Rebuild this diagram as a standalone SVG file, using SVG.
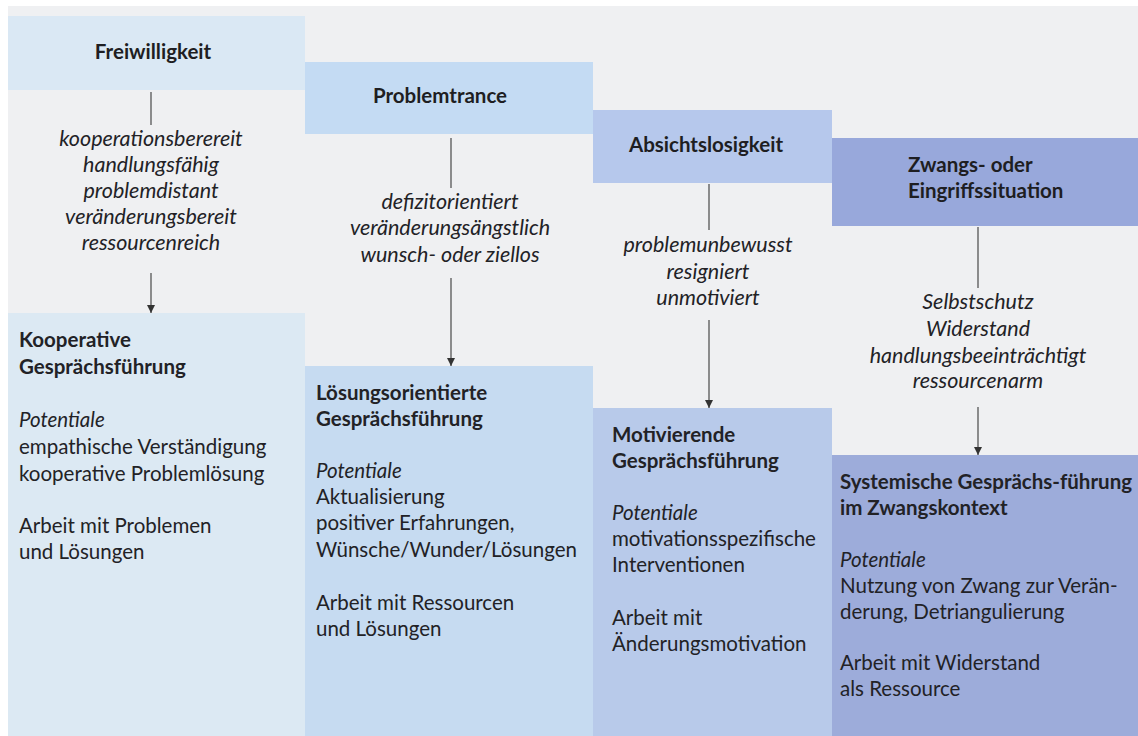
<svg xmlns="http://www.w3.org/2000/svg" width="1138" height="736" viewBox="0 0 1138 736">
<defs>
<style>
.h{font-family:Lato,"Liberation Sans",sans-serif;font-weight:bold;font-size:20.5px;fill:#1e1e22}
.i{font-family:Lato,"Liberation Sans",sans-serif;font-style:italic;font-size:21.5px;fill:#222226;text-anchor:middle}
.b{font-family:Lato,"Liberation Sans",sans-serif;font-size:20.5px;fill:#222226}
.bb{font-weight:bold}
.it{font-style:italic}
.c{text-anchor:middle}
.ln{stroke:#555;stroke-width:1.3;fill:none}
</style>
<marker id="ah" viewBox="0 0 10 10" refX="10" refY="5" markerWidth="8" markerHeight="8" markerUnits="userSpaceOnUse" orient="auto">
<path d="M0,0 L10,5 L0,10 z" fill="#333"/>
</marker>
</defs>
<rect x="0" y="0" width="1138" height="736" fill="#ffffff"/>
<rect x="8" y="6" width="1130" height="730" fill="#eff0f2"/>

<g id="freiwilligkeit">
<rect x="8" y="16" width="297" height="74" fill="#dae8f4"/>
<text class="h c" x="153" y="59">Freiwilligkeit</text>
</g>
<g id="problemtrance">
<rect x="305" y="62" width="288" height="72" fill="#c4dbf3"/>
<text class="h c" x="440" y="103">Problemtrance</text>
</g>
<g id="absichtslosigkeit">
<rect x="593" y="110" width="239" height="73" fill="#b6c8ec"/>
<text class="h c" x="706" y="152">Absichtslosigkeit</text>
</g>
<g id="zwangs">
<rect x="832" y="138" width="306" height="88" fill="#98a8db"/>
<text class="h" x="908" y="172">Zwangs- oder</text>
<text class="h" x="908" y="198">Eingriffssituation</text>
</g>

<g id="label-freiwilligkeit">
<text class="i" x="151" y="146">kooperationsberereit</text>
<text class="i" x="151" y="172">handlungsfähig</text>
<text class="i" x="151" y="198">problemdistant</text>
<text class="i" x="151" y="224">veränderungsbereit</text>
<text class="i" x="151" y="250">ressourcenreich</text>
</g>
<g id="label-problemtrance">
<text class="i" x="450" y="209">defizitorientiert</text>
<text class="i" x="450" y="235">veränderungsängstlich</text>
<text class="i" x="450" y="262">wunsch- oder ziellos</text>
</g>
<g id="label-absichtslosigkeit">
<text class="i" x="708" y="252">problemunbewusst</text>
<text class="i" x="708" y="279">resigniert</text>
<text class="i" x="708" y="305">unmotiviert</text>
</g>
<g id="label-zwangs">
<text class="i" x="978" y="309">Selbstschutz</text>
<text class="i" x="978" y="336">Widerstand</text>
<text class="i" x="978" y="363">handlungsbeeinträchtigt</text>
<text class="i" x="978" y="388">ressourcenarm</text>
</g>

<g id="kooperative">
<rect x="8" y="313" width="297" height="423" fill="#dce9f3"/>
<text class="b bb" x="19" y="347">Kooperative</text>
<text class="b bb" x="19" y="374">Gesprächsführung</text>
<text class="b it" x="19" y="427">Potentiale</text>
<text class="b" x="19" y="454">empathische Verständigung</text>
<text class="b" x="19" y="481">kooperative Problemlösung</text>
<text class="b" x="19" y="533">Arbeit mit Problemen</text>
<text class="b" x="19" y="559">und Lösungen</text>
</g>
<g id="loesungsorientierte">
<rect x="305" y="366" width="288" height="370" fill="#c6dbf1"/>
<text class="b bb" x="316" y="400">Lösungsorientierte</text>
<text class="b bb" x="316" y="426">Gesprächsführung</text>
<text class="b it" x="316" y="478">Potentiale</text>
<text class="b" x="316" y="504">Aktualisierung</text>
<text class="b" x="316" y="530">positiver Erfahrungen,</text>
<text class="b" x="316" y="557">Wünsche/Wunder/Lösungen</text>
<text class="b" x="316" y="610">Arbeit mit Ressourcen</text>
<text class="b" x="316" y="636">und Lösungen</text>
</g>
<g id="motivierende">
<rect x="593" y="408" width="239" height="328" fill="#b8caea"/>
<text class="b bb" x="612" y="442">Motivierende</text>
<text class="b bb" x="612" y="468">Gesprächsführung</text>
<text class="b it" x="612" y="520">Potentiale</text>
<text class="b" x="612" y="546">motivationsspezifische</text>
<text class="b" x="612" y="572">Interventionen</text>
<text class="b" x="612" y="625">Arbeit mit</text>
<text class="b" x="612" y="651">Änderungsmotivation</text>
</g>
<g id="systemische">
<rect x="832" y="455" width="306" height="281" fill="#9dacda"/>
<text class="b bb" x="840" y="489">Systemische Gesprächs-führung</text>
<text class="b bb" x="840" y="515">im Zwangskontext</text>
<text class="b it" x="840" y="567">Potentiale</text>
<text class="b" x="840" y="593">Nutzung von Zwang zur Verän-</text>
<text class="b" x="840" y="619">derung, Detriangulierung</text>
<text class="b" x="840" y="670">Arbeit mit Widerstand</text>
<text class="b" x="840" y="696">als Ressource</text>
</g>

<g id="connectors">
<line class="ln" x1="151" y1="92" x2="151" y2="125"/>
<line class="ln" x1="151" y1="273" x2="151" y2="313" marker-end="url(#ah)"/>
<line class="ln" x1="451" y1="138" x2="451" y2="188"/>
<line class="ln" x1="451" y1="278" x2="451" y2="366" marker-end="url(#ah)"/>
<line class="ln" x1="709" y1="184" x2="709" y2="230"/>
<line class="ln" x1="709" y1="320" x2="709" y2="408" marker-end="url(#ah)"/>
<line class="ln" x1="978" y1="227" x2="978" y2="288"/>
<line class="ln" x1="978" y1="407" x2="978" y2="455" marker-end="url(#ah)"/>
</g>
</svg>
